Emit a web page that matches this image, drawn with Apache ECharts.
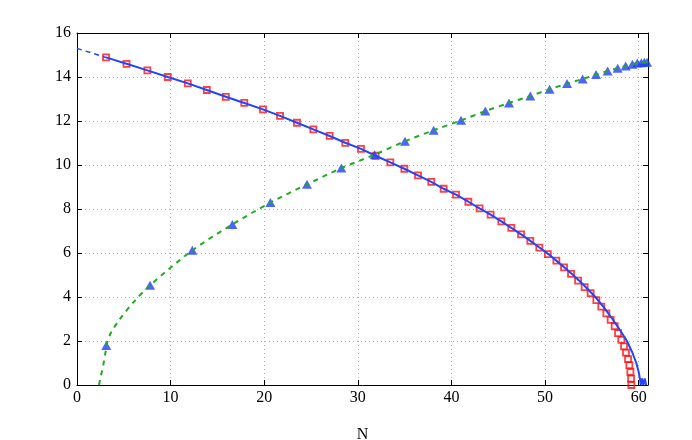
<!DOCTYPE html>
<html>
<head>
<meta charset="utf-8">
<script src="https://cdn.jsdelivr.net/npm/echarts@6/dist/echarts.min.js"></script>
<style>html,body{margin:0;padding:0;background:#fff}#c{width:692px;height:440px}</style>
</head>
<body>
<div id="c"></div>
<script>
// Simulation points (red squares): [N, value]
const squares = [[3.1,14.89],[5.29,14.6],[7.52,14.3],[9.7,14.0],[11.84,13.71],[13.87,13.41],[15.9,13.1],[17.87,12.82],[19.87,12.53],[21.69,12.23],[23.5,11.92],[25.25,11.62],[26.99,11.32],[28.66,11.01],[30.34,10.73],[31.9,10.42],[33.47,10.12],[34.97,9.83],[36.43,9.53],[37.85,9.23],[39.17,8.92],[40.49,8.65],[41.81,8.33],[43.01,8.03],[44.19,7.74],[45.33,7.44],[46.4,7.14],[47.44,6.85],[48.43,6.55],[49.39,6.24],[50.3,5.95],[51.21,5.65],[52.03,5.35],[52.78,5.05],[53.53,4.74],[54.23,4.45],[54.87,4.17],[55.48,3.86],[56.01,3.56],[56.55,3.26],[57.01,2.96],[57.44,2.67],[57.8,2.36],[58.15,2.05],[58.44,1.76],[58.65,1.47],[58.87,1.18],[59.01,0.9],[59.12,0.59],[59.19,0.29],[59.22,0.0]];
// Blue triangles
const triangles = [[3.13,1.8],[7.8,4.53],[12.32,6.12],[16.6,7.3],[20.66,8.29],[24.57,9.12],[28.24,9.86],[31.8,10.47],[35.04,11.08],[38.1,11.58],[41.03,12.03],[43.62,12.45],[46.15,12.82],[48.43,13.14],[50.49,13.44],[52.35,13.7],[54.02,13.91],[55.45,14.11],[56.69,14.27],[57.76,14.4],[58.61,14.5],[59.33,14.58],[59.86,14.64],[60.29,14.65],[60.61,14.67],[60.9,14.67]];
// Blue theory curve (solid) and its dashed extension
const blueDashed = [[0,15.3],[1.5,15.1],[3.1,14.89]];
const blueSolid = [[3.1,14.89],[5.29,14.6],[7.52,14.3],[9.7,14.0],[11.84,13.71],[13.87,13.41],[15.9,13.1],[17.87,12.82],[19.87,12.53],[21.69,12.23],[23.5,11.92],[25.25,11.62],[26.99,11.32],[28.66,11.01],[30.34,10.73],[31.9,10.42],[33.47,10.12],[34.97,9.83],[36.43,9.53],[37.85,9.23],[39.17,8.92],[40.49,8.65],[41.81,8.33],[43.01,8.03],[44.19,7.74],[45.33,7.44],[46.4,7.14],[47.44,6.85],[48.43,6.55],[49.4,6.25],[50.35,5.95],[51.3,5.62],[52.2,5.3],[53.0,5.0],[53.8,4.68],[54.6,4.34],[55.38,4.0],[56.3,3.52],[57.2,3.0],[58.0,2.5],[58.75,2.0],[59.3,1.5],[59.75,1.0],[60.0,0.6],[60.15,0.25],[60.22,0.0],[60.35,0.3],[60.5,0.0],[60.65,0.3],[60.8,0.0]];
// Green dashed curve
const greenLine = [[2.35,0.0],[2.45,0.2],[2.65,0.6],[2.85,1.0],[3.05,1.5],[3.2,1.9],[3.6,2.35],[4.5,2.95],[6.05,3.77],[7.8,4.53],[12.32,6.12],[16.6,7.3],[20.66,8.29],[24.57,9.12],[28.24,9.86],[31.8,10.47],[35.04,11.08],[38.1,11.58],[41.03,12.03],[43.62,12.45],[46.15,12.82],[48.43,13.14],[50.49,13.44],[52.35,13.7],[54.02,13.91],[55.45,14.11],[56.69,14.27],[57.76,14.4],[58.61,14.5],[59.33,14.58],[59.86,14.64],[60.29,14.65],[61,14.68]];
const xTicks = [0,10,20,30,40,50,60];
const yTicks = [0,2,4,6,8,10,12,14,16];
const xName = 'N';

const font = 'Liberation Serif';
const chart = echarts.init(document.getElementById('c'));
const grid = {left:77, right:44, top:33, bottom:55, containLabel:false, outerBoundsMode:'none'};
const split = {show:true, lineStyle:{color:'#b0b0b0', type:[1,3], width:1}};
const tick = {show:true, inside:true, length:5, lineStyle:{color:'#000'}};
chart.setOption({
  animation:false,
  textStyle:{fontFamily:font},
  grid: grid,
  xAxis: [
    {type:'value', min:0, max:61, interval:10, position:'bottom',
     name:xName, nameLocation:'middle', nameGap:42, nameTextStyle:{fontFamily:font, fontSize:16, color:'#000'},
     axisLine:{show:true, onZero:false, lineStyle:{color:'#000', width:1}},
     axisTick:tick, splitLine:split,
     axisLabel:{fontFamily:font, fontSize:16, color:'#000', margin:5,
       formatter: v => xTicks.includes(v) ? String(v) : ''}},
    {type:'value', min:0, max:61, interval:10, position:'top',
     axisLine:{show:true, onZero:false, lineStyle:{color:'#000', width:1}},
     axisTick:tick, splitLine:{show:false}, axisLabel:{show:false}}
  ],
  yAxis: [
    {type:'value', min:0, max:16, interval:2, position:'left',
     axisLine:{show:true, onZero:false, lineStyle:{color:'#000', width:1}},
     axisTick:tick, splitLine:split,
     axisLabel:{fontFamily:font, fontSize:16, color:'#000', margin:6,
       formatter: v => yTicks.includes(v) ? String(v) : ''}},
    {type:'value', min:0, max:16, interval:2, position:'right',
     axisLine:{show:true, onZero:false, lineStyle:{color:'#000', width:1}},
     axisTick:tick, splitLine:{show:false}, axisLabel:{show:false}}
  ],
  series: [
    {type:'line', data:blueDashed, showSymbol:false, symbol:'none',
     lineStyle:{color:'#2244ff', width:1.5, type:[5,4]}},
    {type:'line', data:blueSolid, showSymbol:false, symbol:'none',
     lineStyle:{color:'#2244ff', width:2}},
    {type:'scatter', data:squares, symbol:'rect', symbolSize:6,
     itemStyle:{color:'rgba(0,0,0,0)', borderColor:'#ff1010', borderWidth:1.8}},
    {type:'line', data:greenLine, showSymbol:false, symbol:'none', smooth:0.3,
     lineStyle:{color:'#22aa22', width:2, type:[5,5]}},
    {type:'scatter', data:triangles, symbol:'triangle', symbolSize:[10,9],
     itemStyle:{color:'#1f3fff'}}
  ]
});
</script>
</body>
</html>
